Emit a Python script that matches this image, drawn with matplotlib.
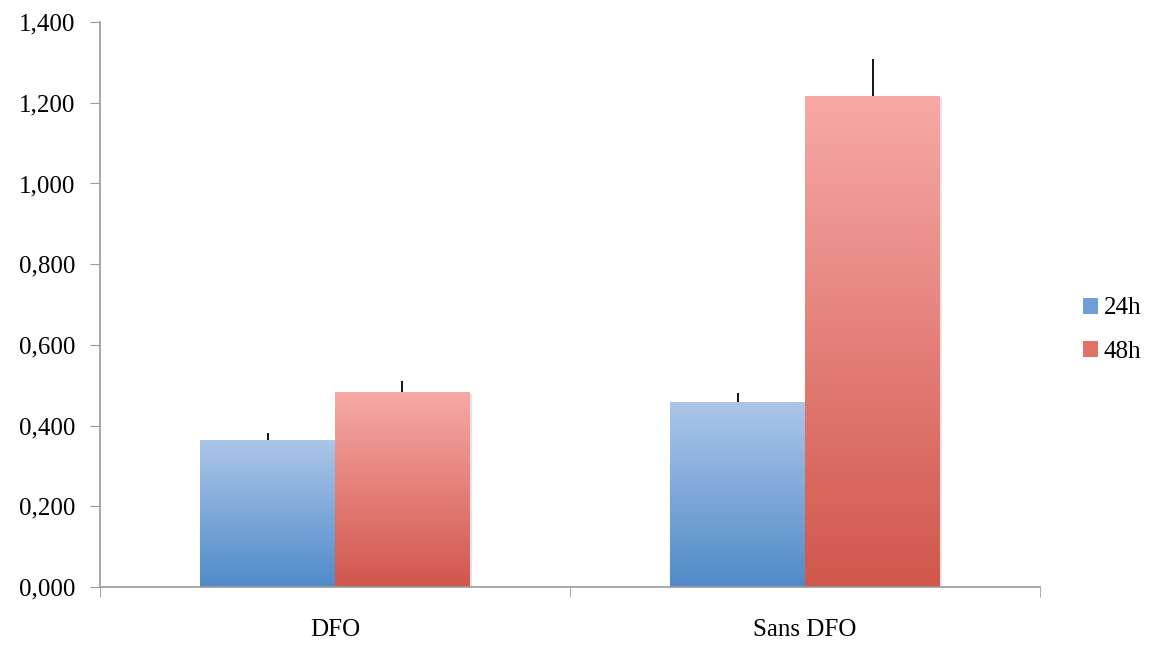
import numpy as np
import matplotlib.pyplot as plt
from matplotlib.colors import LinearSegmentedColormap
from matplotlib.ticker import FuncFormatter, FixedLocator
import matplotlib.patches as mpatches

plt.rcParams['font.family'] = ['Liberation Serif', 'DejaVu Serif']

categories = ["DFO", "Sans DFO"]
series_names = ["24h", "48h"]
values_24h = [0.364, 0.458]
values_48h = [0.483, 1.217]
err_24h = [0.017, 0.023]
err_48h = [0.027, 0.091]

# gradient colours (top, bottom)
grad_colors = {
    "24h": ("#abc6e8", "#4f8bc9"),
    "48h": ("#f7a9a6", "#d0574c"),
}

fig = plt.figure(figsize=(11.57, 6.46), dpi=100)
ax = fig.add_axes([0.0864, 0.0913, 0.8126, 0.8746])

x = np.arange(len(categories))
width = 0.287

def grad_bar(ax, xs, heights, errs, color_pair, name):
    cmap = LinearSegmentedColormap.from_list(name, [color_pair[1], color_pair[0]])
    bars = ax.bar(xs, heights, width, color="none", edgecolor="none", zorder=2)
    grad = np.linspace(0, 1, 256).reshape(-1, 1)
    for b in bars:
        x0, y0 = b.get_x(), b.get_y()
        w, h = b.get_width(), b.get_height()
        # soft shadow
        sh = mpatches.Rectangle((x0 + 0.005, y0), w, h - 0.004, facecolor="#000000",
                                alpha=0.10, edgecolor="none", zorder=1)
        ax.add_patch(sh)
        im = ax.imshow(grad, cmap=cmap, origin="lower", aspect="auto",
                       extent=[x0, x0 + w, y0, y0 + h], zorder=2)
        im.set_clip_path(b)
    ax.errorbar(xs, heights, yerr=[np.zeros(len(errs)), errs], fmt="none",
                ecolor="black", elinewidth=1.3, capsize=0, zorder=3)
    return bars

grad_bar(ax, x - width / 2, values_24h, err_24h, grad_colors["24h"], "c24")
grad_bar(ax, x + width / 2, values_48h, err_48h, grad_colors["48h"], "c48")

ax.set_xlim(-0.5, 1.5)
ax.set_ylim(0, 1.4)
ax.set_yticks(np.arange(0, 1.41, 0.2))
ax.yaxis.set_major_formatter(FuncFormatter(lambda v, p: f"{v:.3f}".replace(".", ",")))

ax.set_xticks(x)
ax.set_xticklabels(categories)
ax.xaxis.set_minor_locator(FixedLocator([-0.5, 0.5, 1.5]))
ax.tick_params(axis="x", which="major", length=0, pad=23, labelsize=18)
ax.tick_params(axis="x", which="minor", length=7, color="#999999", direction="out")
ax.tick_params(axis="y", length=7, color="#999999", labelsize=18, pad=11)

for s in ["top", "right"]:
    ax.spines[s].set_visible(False)
for s in ["left", "bottom"]:
    ax.spines[s].set_color("#999999")
    ax.spines[s].set_linewidth(1.2)

# legend
handles = [mpatches.Patch(facecolor=grad_colors[n][1], label=n) for n in series_names]
handles[0].set_facecolor("#6e9fd6")
handles[1].set_facecolor("#e0726a")
fig.legend(handles=handles, loc="center left", bbox_to_anchor=(0.927, 0.489),
           frameon=False, fontsize=18, handlelength=0.6, handleheight=0.6,
           handletextpad=0.25, labelspacing=0.85, borderaxespad=0)

fig.savefig("out.png", dpi=100)
